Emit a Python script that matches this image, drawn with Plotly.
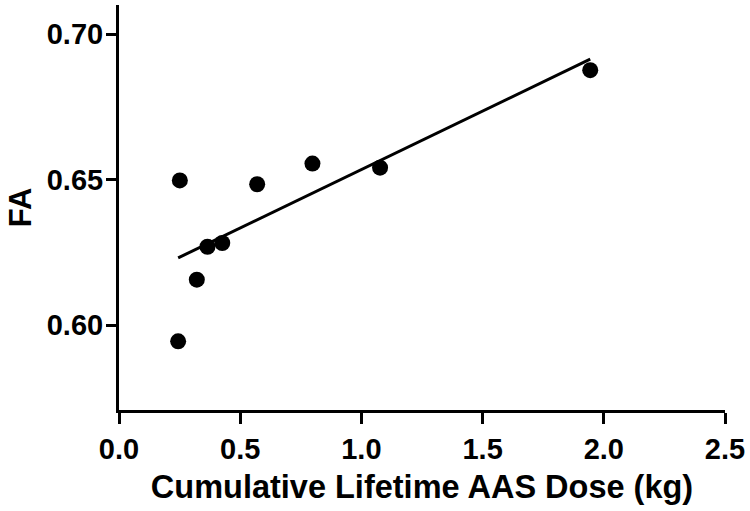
import numpy as np
import plotly.graph_objects as go

# Data
dose_kg = [0.244, 0.251, 0.321, 0.365, 0.426, 0.570, 0.798, 1.077, 1.944]
fa_values = [0.5944, 0.6497, 0.6156, 0.6269, 0.6282, 0.6484, 0.6555, 0.6541, 0.6876]

x_ticks = [0.0, 0.5, 1.0, 1.5, 2.0, 2.5]
y_ticks = [0.60, 0.65, 0.70]

x_title = "Cumulative Lifetime AAS Dose (kg)"
y_title = "FA"

# Linear regression fit computed from the data
slope, intercept = np.polyfit(dose_kg, fa_values, 1)
fit_x = [min(dose_kg), max(dose_kg)]
fit_y = [slope * v + intercept for v in fit_x]

font_family = "Liberation Sans, Arial, Helvetica, sans-serif"

fig = go.Figure()
fig.add_trace(go.Scatter(
    x=fit_x, y=fit_y, mode="lines",
    line=dict(color="black", width=3),
    hoverinfo="skip", showlegend=False,
))
fig.add_trace(go.Scatter(
    x=dose_kg, y=fa_values, mode="markers",
    marker=dict(color="black", size=16, line=dict(width=0)),
    showlegend=False,
))

fig.update_layout(
    width=750, height=511,
    margin=dict(l=119, r=25, t=5, b=101),
    paper_bgcolor="white", plot_bgcolor="white",
    font=dict(family=font_family, color="black"),
    xaxis=dict(
        range=[0, 2.5], tickvals=x_ticks, tickformat=".1f",
        automargin=False,
        showline=True, linecolor="black", linewidth=3,
        ticks="outside", ticklen=11, tickwidth=3, tickcolor="black",
        showgrid=False, zeroline=False,
        tickfont=dict(size=29, family=font_family, weight="bold"),
        title=dict(text=x_title, font=dict(size=32.5, family=font_family, weight="bold"), standoff=12),
    ),
    yaxis=dict(
        range=[0.5708, 0.71], tickvals=y_ticks, tickformat=".2f",
        automargin=False,
        showline=True, linecolor="black", linewidth=3,
        ticks="outside", ticklen=10, tickwidth=3, tickcolor="black",
        ticklabelstandoff=-3,
        showgrid=False, zeroline=False,
        tickfont=dict(size=29, family=font_family, weight="bold"),
        title=dict(text=y_title, font=dict(size=31, family=font_family, weight="bold"), standoff=6),
    ),
)

fig.write_html(
    "out.html",
    config={"displayModeBar": False},
    post_script="document.body.style.margin='0';document.body.style.overflow='hidden';",
)
